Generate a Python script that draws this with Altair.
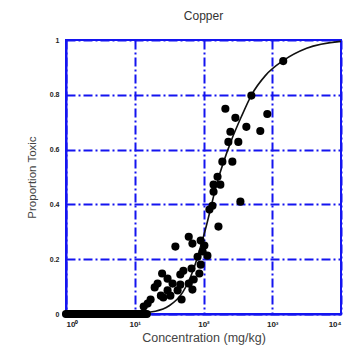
import altair as alt
import pandas as pd

# observed data (concentration mg/kg, proportion toxic)
obs_conc = [1445, 497, 208, 291, 847, 420, 246, 670, 230, 321, 188, 263, 160, 140, 176, 140,
            344, 135, 122, 165, 61, 39, 69, 91, 103, 97, 114, 82, 51, 67, 87, 46, 25, 30,
            21.5, 35.5, 46, 61, 72, 42, 69, 30, 24, 33, 26, 48, 17, 15.4, 13.5, 19.5, 91]
obs_prop = [0.923, 0.797, 0.749, 0.716, 0.730, 0.683, 0.665, 0.668, 0.628, 0.628, 0.556, 0.556,
            0.501, 0.472, 0.472, 0.446, 0.410, 0.395, 0.381, 0.319, 0.282, 0.246, 0.257, 0.268,
            0.250, 0.228, 0.213, 0.209, 0.158, 0.166, 0.148, 0.144, 0.148, 0.129, 0.111, 0.111,
            0.107, 0.111, 0.126, 0.086, 0.089, 0.086, 0.067, 0.067, 0.060, 0.053, 0.053, 0.038,
            0.027, 0.097, 0.180]

# non-toxic samples lying on zero (dense band)
zero_conc = [1.0, 1.05, 1.1, 1.15, 1.2, 1.25, 1.3, 1.37, 1.45, 1.52, 1.6, 1.68, 1.75, 1.83, 1.9,
             2.0, 2.1, 2.2, 2.3, 2.4, 2.5, 2.6, 2.7, 2.85, 3.0, 3.15, 3.3, 3.45, 3.6, 3.8, 4.0,
             4.2, 4.4, 4.6, 4.8, 5.0, 5.2, 5.45, 5.7, 5.95, 6.2, 6.5, 6.8, 7.1, 7.4, 7.75, 8.1,
             8.45, 8.8, 9.2, 9.6, 10.0, 10.5, 11.0, 11.5, 12.0, 12.5, 13.0, 13.5, 14.2, 15.0]

# fitted curve
curve_conc = [1, 10, 20, 31.6, 50, 70.8, 107, 158, 251, 355, 501, 794, 1445, 3162, 10000]
curve_prop = [0.0, 0.002, 0.01, 0.03, 0.08, 0.16, 0.31, 0.48, 0.63, 0.72, 0.80, 0.87, 0.925, 0.97, 0.995]

x_ticks = [1, 10, 100, 1000, 10000]
y_ticks = [0, 0.2, 0.4, 0.6, 0.8, 1.0]

BLUE = "#1414f0"
FONT = "Liberation Sans"

pts = pd.DataFrame({"c": obs_conc + zero_conc,
                    "p": obs_prop + [0.0] * len(zero_conc)})
cur = pd.DataFrame({"c": curve_conc, "p": curve_prop})

xscale = alt.Scale(type="log", domain=[1, 10000], nice=False)
yscale = alt.Scale(domain=[0, 1], nice=False)

xaxis = alt.Axis(values=x_ticks, title="Concentration (mg/kg)",
                 labelExpr="['10⁰','10¹','10²','10³','10⁴'][round(log(datum.value)/LN10)]",
                 grid=True, ticks=False, labelPadding=6, titlePadding=3,
                 labelFontSize=8, titleFontSize=12.5, titleFontWeight="normal",
                 labelFont=FONT, titleFont=FONT,
                 labelColor="#222222", titleColor="#444444", labelFontWeight="bold")
yaxis = alt.Axis(values=y_ticks, title="Proportion Toxic",
                 labelExpr="datum.value == 0 ? '0' : datum.value == 1 ? '1' : format(datum.value, '.1f')",
                 grid=True, ticks=False, labelPadding=7, titlePadding=12,
                 labelFontSize=7, titleFontSize=11.5, titleFontWeight="normal",
                 labelFont=FONT, titleFont=FONT,
                 labelColor="#222222", titleColor="#444444", labelFontWeight="bold")

line = alt.Chart(cur).mark_line(color="#111111", strokeWidth=1.6, interpolate="monotone").encode(
    x=alt.X("c:Q", scale=xscale, axis=xaxis),
    y=alt.Y("p:Q", scale=yscale, axis=yaxis),
)
dots = alt.Chart(pts).mark_circle(color="black", size=66, opacity=1).encode(
    x=alt.X("c:Q", scale=xscale),
    y=alt.Y("p:Q", scale=yscale),
)

chart = alt.layer(line, dots).properties(
    width=275, height=274,
    title=alt.TitleParams("Copper", fontSize=12, font=FONT, fontWeight="normal",
                          color="#333333", offset=13),
    padding={"left": 58, "top": 32, "right": 4, "bottom": 34},
    autosize="none",
).configure_axis(
    gridColor=BLUE, gridWidth=2, gridDash=[9, 3, 2, 3], gridOpacity=1,
    domainColor=BLUE, domainWidth=2,
).configure_view(stroke=BLUE, strokeWidth=2)

chart.save("out.html", embed_options={"renderer": "svg", "actions": False})
